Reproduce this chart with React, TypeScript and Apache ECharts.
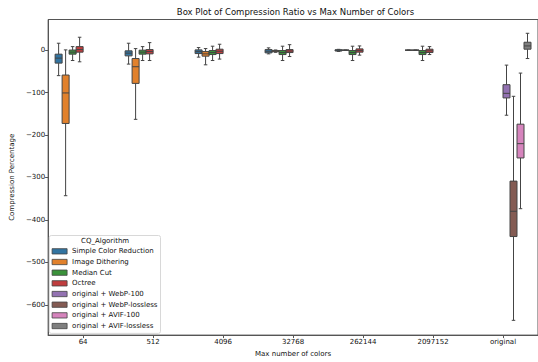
import React, { useEffect, useRef } from "react";
import * as echarts from "echarts";

// Category axis: maximum palette size, plus the untouched originals
const categories = ["64", "512", "4096", "32768", "262144", "2097152", "original"];

const algorithms = [
  "Simple Color Reduction",
  "Image Dithering",
  "Median Cut",
  "Octree",
  "original + WebP-100",
  "original + WebP-lossless",
  "original + AVIF-100",
  "original + AVIF-lossless",
];

const boxColors = [
  "#3274a1", "#e1812c", "#3a923a", "#c03d3e",
  "#9372b2", "#845b53", "#d684bd", "#7f7f7f",
];

// Five-number summaries per category: [min, q1, median, q3, max]; null = no data
type Box = [number, number, number, number, number] | null;

const simpleColorReduction: Box[] = [
  [-60, -30.5, -18.7, -9.4, 16.4],
  [-32.8, -13.4, -7, -1.6, 16.4],
  [-16.4, -8, -3.5, 0.7, 6.1],
  [-8.7, -6.3, -2.5, 1.4, 5.4],
  [-3, -2, 0, 1, 2],
  [0, 0, 0, 0, 0],
  null,
];
const imageDithering: Box[] = [
  [-343, -172.7, -100.8, -58.6, 0.7],
  [-163, -78.3, -39, -19.7, 3.7],
  [-34.5, -14.1, -8.7, -3.3, 3.8],
  [-5, -3.5, -2, -1, 0.5],
  [0, 0, 0, 0, 0],
  [0, 0, 0, 0, 0],
  null,
];
const medianCut: Box[] = [
  [-24.4, -9.4, -4.7, 0.3, 8.4],
  [-24.4, -9.4, -4.7, 0, 8.4],
  [-24.4, -10.3, -5.6, -0.9, 9.4],
  [-24.4, -10.3, -5.6, -0.9, 9.4],
  [-24.4, -10.3, -5.6, -0.9, 9.4],
  [-24.4, -10.3, -5.6, -0.9, 9.4],
  null,
];
const octree: Box[] = [
  [-27.4, -4.7, 1.4, 8.4, 30.5],
  [-24.4, -8.7, -3.3, 1.4, 17.8],
  [-21, -8, -2.6, 2.3, 14],
  [-15, -5.6, -2, 1.4, 13],
  [-11.7, -4.7, -1, 3, 10],
  [-10.3, -5.6, -1.5, 2.3, 8.4],
  null,
];
const webp100: Box[] = [null, null, null, null, null, null, [-153.3, -112.5, -101.7, -81.3, -35.2]];
const webpLossless: Box[] = [null, null, null, null, null, null, [-636.7, -439.2, -379.7, -308.6, -108.7]];
const avif100: Box[] = [null, null, null, null, null, null, [-373.6, -254, -220.3, -174.4, -54]];
const avifLossless: Box[] = [null, null, null, null, null, null, [-19.7, 2.3, 10, 18.7, 39.8]];

const seriesValues: Box[][] = [
  simpleColorReduction, imageDithering, medianCut, octree,
  webp100, webpLossless, avif100, avifLossless,
];

const yTicks = [-600, -500, -400, -300, -200, -100, 0];

const FONT = "DejaVu Sans";
const LINE = "#444444";

export default function App() {
  const ref = useRef<HTMLDivElement>(null);

  useEffect(() => {
    if (!ref.current) return;
    const chart = echarts.init(ref.current, null, { renderer: "svg" });
    const hueCount = algorithms.length;

    const series = algorithms.map((name, hue) => {
      const data = seriesValues[hue]
        .map((b, i) => (b ? [i, ...b] : null))
        .filter((d) => d !== null);
      return {
        type: "custom",
        name,
        itemStyle: { color: boxColors[hue] },
        encode: { x: 0, y: [1, 2, 3, 4, 5] },
        data,
        renderItem: (params: any, api: any) => {
          const cat = api.value(0);
          const mn = api.value(1);
          const q1 = api.value(2);
          const med = api.value(3);
          const q3 = api.value(4);
          const mx = api.value(5);
          const band = api.size([1, 0])[0];
          const slot = (band * 0.8) / hueCount;
          const cx = api.coord([cat, 0])[0] + (hue - (hueCount - 1) / 2) * slot;
          const y = (v: number) => api.coord([cat, v])[1];
          const half = slot / 2;
          const cap = slot / 4;
          const ls = { stroke: LINE, lineWidth: 1 };
          return {
            type: "group",
            children: [
              { type: "line", shape: { x1: cx, y1: y(q3), x2: cx, y2: y(mx) }, style: ls },
              { type: "line", shape: { x1: cx, y1: y(q1), x2: cx, y2: y(mn) }, style: ls },
              { type: "line", shape: { x1: cx - cap, y1: y(mx), x2: cx + cap, y2: y(mx) }, style: ls },
              { type: "line", shape: { x1: cx - cap, y1: y(mn), x2: cx + cap, y2: y(mn) }, style: ls },
              {
                type: "rect",
                shape: { x: cx - half, y: y(q3), width: slot, height: y(q1) - y(q3) },
                style: { fill: boxColors[hue], stroke: LINE, lineWidth: 1 },
              },
              { type: "line", shape: { x1: cx - half, y1: y(med), x2: cx + half, y2: y(med) }, style: ls },
            ],
          };
        },
      };
    });

    chart.setOption({
      animation: false,
      backgroundColor: "#ffffff",
      textStyle: { fontFamily: FONT },
      title: {
        text: "Box Plot of Compression Ratio vs Max Number of Colors",
        left: 295.5,
        top: 7.5,
        padding: 0,
        textAlign: "center",
        textStyle: { fontFamily: FONT, fontSize: 8.5, fontWeight: "normal", color: "#111" },
      },
      grid: {
        show: true,
        left: 45.2,
        top: 19.5,
        width: 497.7,
        height: 317,
        borderColor: "#555",
        borderWidth: 1,
        backgroundColor: "transparent",
      },
      legend: {
        orient: "vertical",
        left: 49.3,
        top: 235.5,
        padding: [10.5, 3, 2, 2.4],
        itemWidth: 15,
        itemHeight: 5.3,
        itemGap: 0,
        icon: "rect",
        backgroundColor: "rgba(255,255,255,0.85)",
        borderColor: "#d8d8d8",
        borderWidth: 1,
        borderRadius: 2,
        itemStyle: { borderColor: LINE, borderWidth: 0.8 },
        textStyle: { fontFamily: FONT, fontSize: 7, color: "#111", lineHeight: 10.67 },
        data: algorithms,
      },
      graphic: [
        {
          type: "text",
          left: 105 - 24,
          top: 237,
          style: { text: "CQ_Algorithm", fontFamily: FONT, fontSize: 7, fill: "#111" },
          z: 100,
        },
      ],
      xAxis: {
        type: "category",
        data: categories,
        name: "Max number of colors",
        nameLocation: "middle",
        nameGap: 14,
        nameTextStyle: { fontFamily: FONT, fontSize: 7, color: "#111" },
        axisLine: { show: true, onZero: false, lineStyle: { color: "#555", width: 1 } },
        axisTick: { show: true, alignWithLabel: true, length: 3, lineStyle: { color: "#555" } },
        axisLabel: { fontFamily: FONT, fontSize: 7, color: "#111", margin: 3 },
        splitLine: { show: false },
      },
      yAxis: {
        type: "value",
        min: -671.5,
        max: 72.3,
        name: "Compression Percentage",
        nameLocation: "middle",
        nameGap: 24,
        nameTextStyle: { fontFamily: FONT, fontSize: 7, color: "#111" },
        axisLine: { show: true, onZero: false, lineStyle: { color: "#555", width: 1 } },
        axisTick: { show: true, length: 3, customValues: yTicks, lineStyle: { color: "#555" } },
        axisLabel: {
          fontFamily: FONT,
          fontSize: 7,
          color: "#111",
          margin: 3,
          customValues: yTicks,
          formatter: (v: number) => (v < 0 ? "\u2212" + Math.abs(v) : String(v)),
        },
        splitLine: { show: false },
      },
      series,
    });

    return () => chart.dispose();
  }, []);

  return (
    <div
      ref={ref}
      style={{ position: "fixed", left: 0, top: 0, width: 538, height: 362 }}
    />
  );
}
